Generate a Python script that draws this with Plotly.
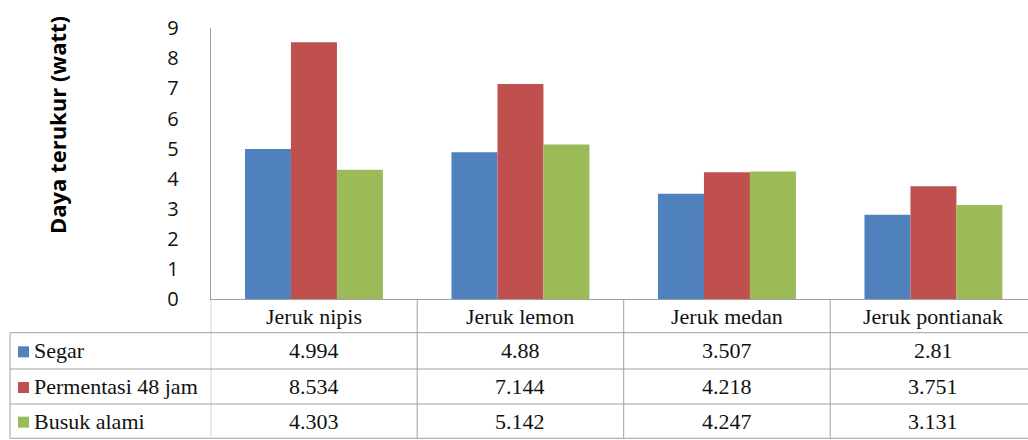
import plotly.graph_objects as go

# Data
categories = ["Jeruk nipis", "Jeruk lemon", "Jeruk medan", "Jeruk pontianak"]
series_names = ["Segar", "Permentasi 48 jam", "Busuk alami"]
segar = [4.994, 4.88, 3.507, 2.81]
permentasi = [8.534, 7.144, 4.218, 3.751]
busuk = [4.303, 5.142, 4.247, 3.131]
value_labels = [
    ["4.994", "4.88", "3.507", "2.81"],
    ["8.534", "7.144", "4.218", "3.751"],
    ["4.303", "5.142", "4.247", "3.131"],
]
y_ticks = [0, 1, 2, 3, 4, 5, 6, 7, 8, 9]

W, H = 1028, 440
colors = ["#4F81BD", "#C0504D", "#9BBB59"]
grid_col = "#A0A0A0"
sans = "Open Sans, Lato, sans-serif"
serif = "Liberation Serif, Times New Roman, serif"


def px(x):
    return x / W


def py(y):
    return 1 - y / H


# plot area geometry (pixels)
axis_x = 210.7
cat_w = 206.5
y_zero = 299.3
y_top = y_zero - 9 * 30.12
row_edges = [y_zero, 332.7, 369.0, 404.0, 438.3]

x_end = -0.5 + 4 * (W - axis_x) / (4 * cat_w)

fig = go.Figure()
for name, vals, col in zip(series_names, [segar, permentasi, busuk], colors):
    fig.add_trace(go.Bar(x=categories, y=vals, name=name, marker_color=col,
                         marker_line_width=0, showlegend=False))

shapes = []
annotations = []

# horizontal table lines
for yy in row_edges[1:]:
    shapes.append(dict(type="line", xref="paper", yref="paper",
                       x0=px(10), x1=1, y0=py(yy), y1=py(yy),
                       line=dict(color=grid_col, width=1)))
# left border of series-name column
shapes.append(dict(type="line", xref="paper", yref="paper",
                   x0=px(10), x1=px(10), y0=py(row_edges[1]), y1=py(row_edges[-1]),
                   line=dict(color=grid_col, width=1)))
# vertical lines at category boundaries
for k in range(len(categories) + 1):
    shapes.append(dict(type="line", xref="x", yref="paper",
                       x0=k - 0.5, x1=k - 0.5, y0=py(y_zero), y1=py(row_edges[-1]),
                       line=dict(color=grid_col, width=1)))

table_font = dict(family=serif, size=22, color="#111111")

# header row: category names
hdr_y = (row_edges[0] + row_edges[1]) / 2
for c in categories:
    annotations.append(dict(x=c, xref="x", y=py(hdr_y), yref="paper",
                            text=c, showarrow=False, xanchor="center", yanchor="middle",
                            font=table_font))

# data rows
for r, name in enumerate(series_names):
    cy = (row_edges[r + 1] + row_edges[r + 2]) / 2
    shapes.append(dict(type="rect", xref="paper", yref="paper",
                       x0=px(18), x1=px(29), y0=py(cy - 4.5), y1=py(cy + 6.5),
                       fillcolor=colors[r], line=dict(width=0)))
    annotations.append(dict(x=px(32), xref="paper", y=py(cy), yref="paper",
                            text=name, showarrow=False, xanchor="left", yanchor="middle",
                            font=table_font))
    for c, lab in zip(categories, value_labels[r]):
        annotations.append(dict(x=c, xref="x", y=py(cy), yref="paper",
                                text=lab, showarrow=False, xanchor="center", yanchor="middle",
                                font=table_font))

# axis title
annotations.append(dict(x=px(57), y=py(125), xref="paper", yref="paper",
                        text="<b>Daya terukur (watt)</b>", textangle=-90, showarrow=False,
                        xanchor="center", yanchor="middle",
                        font=dict(family=sans, size=22, color="#000000")))

fig.update_layout(
    width=W, height=H,
    margin=dict(l=0, r=0, t=0, b=0, autoexpand=False),
    paper_bgcolor="white", plot_bgcolor="white",
    barmode="group", bargap=0.332, bargroupgap=0,
    xaxis=dict(domain=[px(axis_x), 1], range=[-0.5, x_end], type="category",
               showticklabels=False, showgrid=False, zeroline=False, automargin=False,
               showline=True, linecolor=grid_col, linewidth=1, ticks=""),
    yaxis=dict(domain=[py(y_zero), py(y_top)], range=[0, 9], automargin=False,
               tickvals=y_ticks, ticktext=[str(t) for t in y_ticks],
               showgrid=False, zeroline=False, showline=True,
               linecolor=grid_col, linewidth=1, ticks="",
               ticklabelstandoff=27,
               tickfont=dict(family=sans, size=20, color="#111111")),
    shapes=shapes,
    annotations=annotations,
)

fig.write_html("out.html")
